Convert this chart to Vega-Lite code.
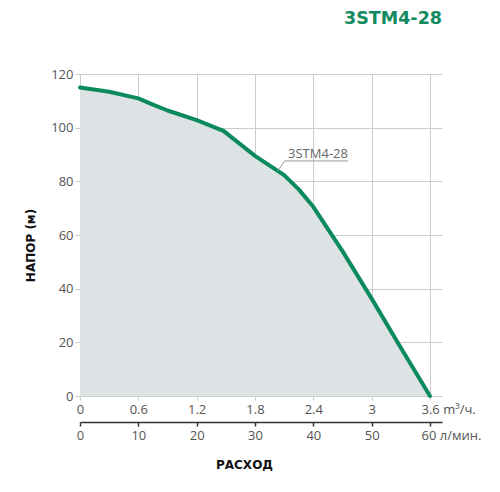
{
  "$schema": "https://vega.github.io/schema/vega-lite/v6.json",
  "width": 362,
  "height": 322,
  "autosize": {"type": "none"},
  "padding": {"left": 80, "top": 74, "right": 58, "bottom": 96},
  "background": "white",
  "title": {
    "text": "3STM4-28",
    "anchor": "end",
    "frame": "group",
    "baseline": "alphabetic",
    "offset": 27,
    "font": "DejaVu Sans",
    "fontSize": 17.5,
    "fontWeight": "bold",
    "color": "#138a5e"
  },
  "datasets": {
    "curve": [
      {"q": 0, "h": 115},
      {"q": 5, "h": 113.4},
      {"q": 10, "h": 110.9},
      {"q": 12.5, "h": 108.6},
      {"q": 15, "h": 106.4},
      {"q": 20, "h": 102.8},
      {"q": 24.6, "h": 98.8},
      {"q": 30, "h": 89.5},
      {"q": 35, "h": 82.3},
      {"q": 37.5, "h": 77},
      {"q": 40, "h": 70.5},
      {"q": 45, "h": 54},
      {"q": 50, "h": 36.3},
      {"q": 55, "h": 18},
      {"q": 60, "h": 0}
    ],
    "note": [
      {"label": "3STM4-28", "tq": 40.8, "th": 90.2, "q1": 35.1, "q2": 46, "h1": 87.6, "h2": 87.6, "lq": 33.9, "lh": 83.9}
    ]
  },
  "config": {
    "view": {"stroke": null},
    "axis": {
      "labelFont": "Open Sans",
      "labelFontSize": 13,
      "labelColor": "#555555",
      "titleFont": "DejaVu Sans",
      "titleFontSize": 12,
      "titleFontWeight": "bold",
      "titleColor": "#111111",
      "gridColor": "#cccccc",
      "gridWidth": 1,
      "tickColor": "#cccccc"
    }
  },
  "layer": [
    {
      "data": {"name": "curve"},
      "mark": {"type": "area", "color": "#dde2e5", "opacity": 1},
      "encoding": {
        "x": {
          "field": "q",
          "type": "quantitative",
          "scale": {"domain": [0, 62.06], "nice": false, "zero": true},
          "axis": {
            "orient": "bottom",
            "values": [0, 10, 20, 30, 40, 50, 60],
            "labelExpr": "datum.value == 60 ? '3.6 m³/ч.' : format(datum.value * 0.06, '.1~f')",
            "labelAlign": {"condition": {"test": "datum.value == 60", "value": "left"}, "value": "center"},
            "labelOffset": {"condition": {"test": "datum.value == 60", "value": -9}, "value": 0},
            "labelPadding": 3,
            "domain": false,
            "tickSize": 4,
            "grid": true,
            "title": "РАСХОД",
            "titleX": 164,
            "titleY": 68,
            "titleBaseline": "middle",
            "titleAlign": "center"
          }
        },
        "y": {
          "field": "h",
          "type": "quantitative",
          "scale": {"domain": [0, 120], "nice": false},
          "axis": {
            "values": [0, 20, 40, 60, 80, 100, 120],
            "domain": false,
            "tickSize": 5,
            "labelPadding": 2,
            "grid": true,
            "title": "НАПОР (м)",
            "titleX": -50,
            "titleY": 171,
            "titleBaseline": "middle",
            "titleAlign": "center",
            "titleAngle": -90
          }
        }
      }
    },
    {
      "data": {"name": "curve"},
      "mark": {"type": "line", "color": "#0b8a5c", "strokeWidth": 4, "strokeJoin": "round", "strokeCap": "round"},
      "encoding": {
        "x": {
          "field": "q",
          "type": "quantitative",
          "axis": {
            "orient": "bottom",
            "offset": 26,
            "values": [0, 10, 20, 30, 40, 50, 60],
            "labelExpr": "datum.value == 60 ? '60 л/мин.' : datum.label",
            "labelAlign": {"condition": {"test": "datum.value == 60", "value": "left"}, "value": "center"},
            "labelOffset": {"condition": {"test": "datum.value == 60", "value": -9}, "value": 0},
            "labelPadding": 3,
            "domain": true,
            "domainColor": "#333333",
            "domainWidth": 1.5,
            "tickColor": "#333333",
            "tickWidth": 1.5,
            "tickSize": 4,
            "grid": false,
            "title": null
          }
        },
        "y": {"field": "h", "type": "quantitative"}
      }
    },
    {
      "data": {"name": "note"},
      "mark": {"type": "rule", "color": "#999999", "strokeWidth": 1},
      "encoding": {
        "x": {"field": "q1", "type": "quantitative", "axis": null},
        "x2": {"field": "q2"},
        "y": {"field": "h1", "type": "quantitative"},
        "y2": {"field": "h2"}
      }
    },
    {
      "data": {"name": "note"},
      "mark": {"type": "rule", "color": "#999999", "strokeWidth": 1},
      "encoding": {
        "x": {"field": "q1", "type": "quantitative", "axis": null},
        "x2": {"field": "lq"},
        "y": {"field": "h1", "type": "quantitative"},
        "y2": {"field": "lh"}
      }
    },
    {
      "data": {"name": "note"},
      "mark": {"type": "text", "font": "Open Sans", "fontSize": 13, "color": "#666666", "align": "center", "baseline": "middle"},
      "encoding": {
        "x": {"field": "tq", "type": "quantitative", "axis": null},
        "y": {"field": "th", "type": "quantitative"},
        "text": {"field": "label"}
      }
    }
  ],
  "resolve": {"axis": {"x": "independent"}}
}
